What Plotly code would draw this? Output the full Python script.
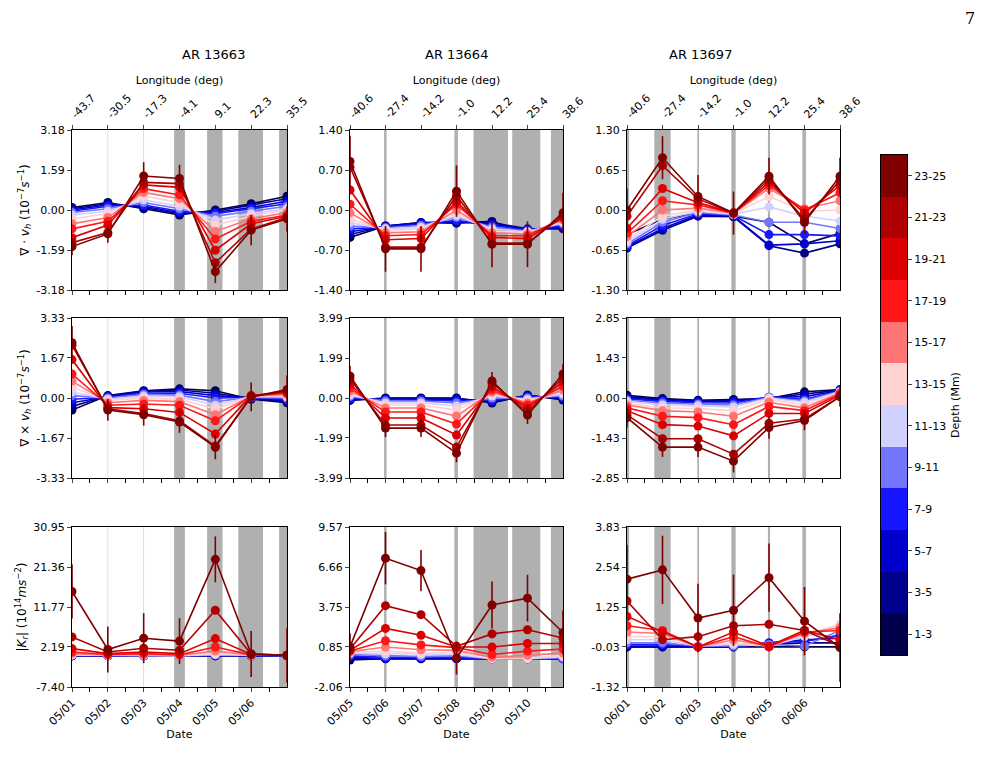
import plotly.graph_objects as go

depths = ["1-3", "3-5", "5-7", "7-9", "9-11", "11-13", "13-15", "15-17", "17-19", "19-21", "21-23", "23-25"]
regions = ["AR 13663", "AR 13664", "AR 13697"]
dates = [["05/01", "05/02", "05/03", "05/04", "05/05", "05/06"],
         ["05/05", "05/06", "05/07", "05/08", "05/09", "05/10"],
         ["06/01", "06/02", "06/03", "06/04", "06/05", "06/06"]]
lons = [[-43.7, -30.5, -17.3, -4.1, 9.1, 22.3, 35.5],
        [-40.6, -27.4, -14.2, -1.0, 12.2, 25.4, 38.6],
        [-40.6, -27.4, -14.2, -1.0, 12.2, 25.4, 38.6]]
days = [0, 1, 2, 3, 4, 5, 6]

# y tick values per row/column
yticks = [[[-3.18, -1.59, 0.00, 1.59, 3.18], [-1.40, -0.70, 0.00, 0.70, 1.40], [-1.30, -0.65, 0.00, 0.65, 1.30]],
          [[-3.33, -1.67, 0.00, 1.67, 3.33], [-3.99, -1.99, 0.00, 1.99, 3.99], [-2.85, -1.43, 0.00, 1.43, 2.85]],
          [[-7.40, 2.19, 11.77, 21.36, 30.95], [-2.06, 0.85, 3.75, 6.66, 9.57], [-1.32, -0.03, 1.25, 2.54, 3.83]]]

# data gaps (shaded) per column: (start, end)
gaps = [[(0.99, 1.01), (1.99, 2.01), (2.85, 3.15), (3.77, 4.2), (4.64, 5.33), (5.78, 6.0)],
        [(0.96, 1.03), (2.94, 3.04), (3.48, 4.45), (4.57, 5.36), (5.66, 6.0)],
        [(0.0, 0.06), (0.77, 1.23), (1.98, 2.03), (2.94, 3.06), (3.97, 4.03), (4.94, 5.04)]]

div_1 = [[0.1, 0.3, 0.05, -0.2, 0.0, 0.25, 0.55], [0.05, 0.25, 0.1, -0.15, -0.05, 0.2, 0.45],
         [0.0, 0.2, 0.15, -0.1, -0.1, 0.1, 0.35], [-0.05, 0.15, 0.2, -0.05, -0.15, 0.05, 0.25],
         [-0.1, 0.05, 0.3, 0.05, -0.25, -0.05, 0.15], [-0.2, -0.05, 0.4, 0.15, -0.4, -0.15, 0.05],
         [-0.35, -0.15, 0.55, 0.3, -0.6, -0.25, 0.0], [-0.55, -0.3, 0.7, 0.45, -0.85, -0.35, -0.1],
         [-0.75, -0.45, 0.85, 0.6, -1.15, -0.45, -0.2], [-1.1, -0.6, 1.0, 0.9, -1.6, -0.55, -0.25],
         [-1.3, -0.9, 1.1, 1.05, -2.1, -0.75, -0.3], [-1.45, -0.95, 1.35, 1.25, -2.45, -0.8, -0.35]]
div_2 = [[-0.48, -0.28, -0.22, -0.23, -0.2, -0.4, -0.2], [-0.43, -0.28, -0.22, -0.22, -0.22, -0.33, -0.33],
         [-0.38, -0.29, -0.23, -0.2, -0.25, -0.34, -0.3], [-0.33, -0.3, -0.25, -0.18, -0.27, -0.35, -0.27],
         [-0.28, -0.31, -0.27, -0.13, -0.3, -0.37, -0.24], [-0.22, -0.33, -0.3, -0.1, -0.33, -0.38, -0.22],
         [-0.15, -0.36, -0.33, -0.05, -0.37, -0.4, -0.2], [-0.05, -0.4, -0.38, 0.0, -0.4, -0.42, -0.17],
         [0.1, -0.45, -0.43, 0.1, -0.45, -0.45, -0.15], [0.35, -0.52, -0.5, 0.15, -0.48, -0.5, -0.12],
         [0.75, -0.65, -0.65, 0.25, -0.58, -0.58, -0.1], [0.85, -0.68, -0.68, 0.33, -0.6, -0.6, -0.05]]
div_3 = [[-0.4, -0.15, -0.05, -0.1, -0.2, -0.55, -0.38], [-0.62, -0.33, -0.1, -0.11, -0.58, -0.7, -0.55],
         [-0.6, -0.3, -0.08, -0.1, -0.57, -0.55, -0.5], [-0.58, -0.25, -0.06, -0.09, -0.4, -0.4, -0.42],
         [-0.55, -0.2, -0.04, -0.08, -0.2, -0.2, -0.3], [-0.52, -0.15, -0.02, -0.07, 0.05, -0.1, -0.18],
         [-0.48, -0.1, 0.0, -0.06, 0.22, -0.02, 0.0], [-0.43, 0.0, 0.03, -0.05, 0.35, 0.02, 0.15],
         [-0.38, 0.15, 0.08, -0.05, 0.4, 0.0, 0.28], [-0.3, 0.35, 0.12, -0.05, 0.45, -0.05, 0.4],
         [-0.1, 0.72, 0.18, -0.05, 0.5, -0.15, 0.48], [0.0, 0.85, 0.22, -0.05, 0.55, -0.2, 0.55]]

curl_1 = [[-0.5, 0.1, 0.3, 0.38, 0.3, -0.05, -0.2], [-0.35, 0.08, 0.28, 0.33, 0.2, -0.02, -0.15],
          [-0.2, 0.05, 0.25, 0.27, 0.1, 0.0, -0.1], [-0.05, 0.03, 0.2, 0.2, 0.0, 0.02, -0.05],
          [0.1, 0.0, 0.15, 0.12, -0.15, 0.03, 0.0], [0.25, -0.05, 0.08, 0.05, -0.3, 0.05, 0.05],
          [0.45, -0.1, 0.0, -0.05, -0.45, 0.06, 0.1], [0.7, -0.2, -0.1, -0.15, -0.7, 0.08, 0.15],
          [1.0, -0.3, -0.25, -0.3, -0.95, 0.1, 0.2], [1.6, -0.4, -0.45, -0.6, -1.5, 0.1, 0.25],
          [2.2, -0.45, -0.65, -0.95, -2.0, 0.05, 0.3], [2.3, -0.5, -0.7, -1.0, -2.05, 0.05, 0.35]]
curl_2 = [[-0.12, 0.0, 0.0, 0.0, -0.25, 0.15, -0.1], [-0.1, -0.02, -0.02, -0.03, -0.2, 0.12, -0.05],
          [-0.05, -0.05, -0.05, -0.08, -0.15, 0.1, 0.0], [0.0, -0.1, -0.1, -0.15, -0.1, 0.05, 0.05],
          [0.08, -0.15, -0.15, -0.25, 0.0, 0.0, 0.1], [0.15, -0.25, -0.25, -0.4, 0.1, -0.08, 0.2],
          [0.25, -0.35, -0.35, -0.6, 0.2, -0.15, 0.3], [0.35, -0.5, -0.5, -0.9, 0.3, -0.25, 0.4],
          [0.5, -0.7, -0.7, -1.3, 0.4, -0.35, 0.6], [0.7, -1.0, -1.0, -1.85, 0.55, -0.5, 0.8],
          [0.95, -1.35, -1.35, -2.45, 0.75, -0.7, 1.0], [1.1, -1.5, -1.5, -2.75, 0.85, -0.85, 1.2]]
curl_3 = [[0.1, -0.02, -0.08, -0.05, -0.02, 0.22, 0.3], [0.05, -0.05, -0.1, -0.08, 0.0, 0.15, 0.28],
          [0.0, -0.08, -0.13, -0.12, 0.02, 0.05, 0.27], [-0.03, -0.12, -0.17, -0.18, 0.03, -0.05, 0.25],
          [-0.08, -0.18, -0.22, -0.25, 0.02, -0.1, 0.24], [-0.12, -0.25, -0.28, -0.32, 0.0, -0.15, 0.22],
          [-0.2, -0.35, -0.38, -0.45, -0.05, -0.25, 0.2], [-0.25, -0.45, -0.5, -0.65, -0.15, -0.35, 0.18],
          [-0.35, -0.65, -0.7, -0.95, -0.3, -0.45, 0.15], [-0.45, -0.95, -1.0, -1.35, -0.55, -0.55, 0.1],
          [-0.6, -1.45, -1.45, -2.0, -0.9, -0.75, 0.05], [-0.7, -1.75, -1.75, -2.25, -1.05, -0.8, 0.05]]

kr_1 = [[0.1, 0.1, 0.1, 0.1, 0.1, 0.1, 0.1], [0.1, 0.1, 0.1, 0.1, 0.1, 0.1, 0.1],
        [0.1, 0.1, 0.1, 0.1, 0.15, 0.1, 0.1], [0.15, 0.1, 0.1, 0.1, 0.2, 0.15, 0.15],
        [0.2, 0.15, 0.15, 0.1, 0.3, 0.15, 0.15], [0.3, 0.2, 0.2, 0.1, 0.4, 0.2, 0.2],
        [0.4, 0.2, 0.3, 0.1, 0.7, 0.2, 0.2], [0.6, 0.3, 0.4, 0.2, 1.2, 0.3, 0.2],
        [1.0, 0.4, 0.6, 0.3, 2.2, 0.3, 0.2], [1.8, 0.6, 1.0, 0.6, 4.2, 0.4, 0.2],
        [4.6, 1.0, 1.9, 1.4, 11.0, 0.5, 0.2], [15.5, 1.6, 4.3, 3.6, 23.2, 0.5, 0.2]]
kr_2 = [[-0.1, 0.0, 0.0, 0.0, 0.0, 0.0, 0.0], [0.0, 0.0, 0.0, 0.0, 0.0, 0.0, 0.0],
        [0.1, 0.0, 0.0, 0.0, 0.0, 0.0, 0.0], [0.2, 0.1, 0.1, 0.1, 0.0, 0.0, 0.0],
        [0.3, 0.2, 0.15, 0.2, 0.0, 0.0, 0.05], [0.4, 0.35, 0.3, 0.3, 0.0, 0.0, 0.15],
        [0.45, 0.55, 0.4, 0.45, 0.0, 0.05, 0.25], [0.5, 0.85, 0.65, 0.6, 0.1, 0.25, 0.4],
        [0.55, 1.3, 1.0, 0.8, 0.3, 0.55, 0.7], [0.6, 2.2, 1.7, 0.85, 0.85, 1.1, 1.1],
        [0.7, 3.85, 3.2, 0.9, 1.8, 2.1, 1.5], [0.85, 7.3, 6.4, 0.05, 3.9, 4.4, 1.9]]
kr_3 = [[-0.03, -0.03, -0.03, -0.03, -0.03, -0.03, -0.03], [-0.03, -0.03, -0.03, -0.03, 0.05, 0.1, 0.1],
        [0.0, 0.0, 0.0, 0.0, 0.1, 0.2, 0.25], [0.05, 0.05, 0.0, 0.0, 0.1, 0.15, 0.35],
        [0.1, 0.1, 0.0, 0.0, 0.05, 0.0, 0.5], [0.2, 0.2, 0.0, 0.05, 0.0, 0.3, 0.6],
        [0.3, 0.3, 0.0, 0.1, 0.0, 0.35, 0.7], [0.45, 0.4, -0.03, 0.2, 0.0, 0.4, 0.6],
        [0.65, 0.5, -0.03, 0.3, -0.03, 0.45, 0.5], [0.95, 0.45, -0.03, 0.45, 0.0, 0.5, 0.2],
        [1.45, 0.2, 0.3, 0.65, 0.7, 0.5, 0.0], [2.15, 2.45, 0.9, 1.15, 2.2, 0.8, -0.05]]

# error bars of the deepest layer
err_div = [[0.35, 0.35, 0.55, 0.55, 0.45, 0.6, 0.5], [0.45, 0.4, 0.4, 0.45, 0.4, 0.4, 0.35], [0.35, 0.35, 0.35, 0.35, 0.3, 0.2, 0.3]]
err_curl = [[0.7, 0.45, 0.45, 0.45, 0.5, 0.6, 0.6], [0.5, 0.45, 0.45, 0.45, 0.45, 0.45, 0.5], [0.35, 0.35, 0.35, 0.4, 0.4, 0.35, 0.35]]
err_kr = [[6.5, 5.5, 6.0, 5.5, 5.5, 5.5, 6.5], [1.0, 1.9, 1.5, 1.2, 1.7, 1.7, 1.6], [1.1, 1.1, 1.1, 1.15, 1.1, 1.1, 1.1]]

values = [[div_1, div_2, div_3], [curl_1, curl_2, curl_3], [kr_1, kr_2, kr_3]]
errors = [err_div, err_curl, err_kr]
ytitles = ["∇ · <i>v<sub>h</sub></i> (10<sup>−7</sup><i>s</i><sup>−1</sup>)",
           "∇ × <i>v<sub>h</sub></i> (10<sup>−7</sup><i>s</i><sup>−1</sup>)",
           "|<i>K<sub>r</sub></i>| (10<sup>14</sup><i>ms</i><sup>−2</sup>)"]


def seismic(t):
    # matplotlib 'seismic' colormap
    if t < 0.25:
        r, g, b = 0, 0, 0.3 + 0.7 * t / 0.25
    elif t < 0.5:
        s = (t - 0.25) / 0.25
        r, g, b = s, s, 1
    elif t < 0.75:
        s = (t - 0.5) / 0.25
        r, g, b = 1, 1 - s, 1 - s
    else:
        s = (t - 0.75) / 0.25
        r, g, b = 1 - 0.5 * s, 0, 0
    return "rgb(%d,%d,%d)" % (round(r * 255), round(g * 255), round(b * 255))


def ax(letter, k):
    return letter if k == 1 else "%s%d" % (letter, k)


colors = [seismic(i / 11) for i in range(12)]

W, H = 1005, 768
OFF = 8  # page margin of the browser
col_px = [(72 - OFF, 287 - OFF), (350 - OFF, 563 - OFF), (627 - OFF, 840 - OFF)]
row_px = [(130 - OFF, 290 - OFF), (318 - OFF, 478 - OFF), (527 - OFF, 687 - OFF)]
font = dict(family="DejaVu Sans", size=11, color="black")

fig = go.Figure()
layout = dict(width=W, height=H, margin=dict(l=0, r=0, t=0, b=0), plot_bgcolor="white",
              paper_bgcolor="white", showlegend=False, font=font)
shapes = []
annotations = []

for r in range(3):
    for c in range(3):
        k = r * 3 + c + 1
        xa, ya = ax("x", k), ax("y", k)
        tv = yticks[r][c]
        for i in range(12):
            show_err = i == 11
            fig.add_trace(go.Scatter(
                x=days, y=values[r][c][i], xaxis=xa, yaxis=ya, mode="lines+markers",
                line=dict(color=colors[i], width=1.6), marker=dict(color=colors[i], size=9),
                error_y=dict(type="data", array=errors[r][c], visible=show_err, color=colors[i],
                             thickness=1.6, width=0)))
        xk = dict(domain=[col_px[c][0] / W, col_px[c][1] / W], range=[0, 6], anchor=ya, automargin=False,
                  showline=True, linecolor="black", mirror=True, showgrid=False, zeroline=False,
                  ticks="outside", ticklen=4, tickvals=days[:6], tickfont=font,
                  minor=dict(tickvals=[0.5, 1.5, 2.5, 3.5, 4.5, 5.5], ticks="outside", ticklen=4, tickcolor="black"))
        if r == 2:
            xk.update(ticktext=dates[c], tickangle=-45, title=dict(text="Date", font=font, standoff=2))
        else:
            xk.update(showticklabels=False)
        yk = dict(domain=[1 - row_px[r][1] / H, 1 - row_px[r][0] / H], range=[tv[0], tv[-1]], anchor=xa,
                  showline=True, linecolor="black", mirror=True, showgrid=False, zeroline=False, automargin=False,
                  ticks="outside", ticklen=4, tickvals=tv, ticktext=["%.2f" % v for v in tv], tickfont=font)
        if c == 0:
            yk.update(title=dict(text=ytitles[r], font=dict(family="DejaVu Sans", size=12), standoff=4))
        layout["xaxis%d" % k] = xk
        layout["yaxis%d" % k] = yk
        for g0, g1 in gaps[c]:
            thin = (g1 - g0) < 0.03
            shapes.append(dict(type="rect", xref=xa, yref="%s domain" % ya, x0=g0, x1=g1, y0=0, y1=1,
                               fillcolor="#d0d0d0" if thin else "#b0b0b0", line=dict(width=0), layer="below"))

# top longitude axes
for c in range(3):
    k = 20 + c
    fig.add_trace(go.Scatter(x=days, y=[0] * 7, xaxis="x%d" % k, yaxis=ax("y", c + 1),
                             mode="markers", marker=dict(opacity=0), hoverinfo="skip"))
    layout["xaxis%d" % k] = dict(overlaying=ax("x", c + 1), side="top", anchor=ax("y", c + 1), automargin=False,
                                 range=[0, 6], tickvals=days, ticktext=["%.1f" % v for v in lons[c]],
                                 tickangle=-45, ticks="outside", ticklen=4, showgrid=False, zeroline=False,
                                 tickfont=font, title=dict(text="Longitude (deg)", font=font, standoff=4))
    annotations.append(dict(text=regions[c], x=(col_px[c][0] + col_px[c][1]) / 2 / W, y=1 - (55 - OFF) / H,
                            xref="paper", yref="paper", showarrow=False, yanchor="middle",
                            font=dict(family="DejaVu Sans", size=13, color="black")))

# discrete colorbar
n = len(depths)
cscale = []
for i in range(n):
    cscale.append([i / n, colors[i]])
    cscale.append([(i + 1) / n, colors[i]])
fig.add_trace(go.Heatmap(z=[[i] for i in range(n)], x=[0], y=list(range(n)), xaxis="x30", yaxis="y30",
                         colorscale=cscale, zmin=-0.5, zmax=n - 0.5, showscale=False, hoverinfo="skip"))
layout["xaxis30"] = dict(domain=[(881 - OFF) / W, (907 - OFF) / W], anchor="y30", showticklabels=False, ticks="",
                         automargin=False, showline=True, linecolor="black", mirror=True, showgrid=False,
                         zeroline=False)
layout["yaxis30"] = dict(domain=[1 - (655 - OFF) / H, 1 - (155 - OFF) / H], anchor="x30", side="right",
                         automargin=False, range=[-0.5, n - 0.5], tickvals=list(range(n)), ticktext=depths,
                         ticks="outside", ticklen=4, showline=True, linecolor="black", mirror=True,
                         showgrid=False, zeroline=False, tickfont=font,
                         title=dict(text="Depth (Mm)", font=font, standoff=6))

annotations.append(dict(text="7", x=(977 - OFF) / W, y=1 - 11 / H, xref="paper", yref="paper", showarrow=False,
                        yanchor="middle", font=dict(family="DejaVu Serif", size=16, color="black")))

layout["shapes"] = shapes
layout["annotations"] = annotations
fig.update_layout(**layout)
fig.write_html("out.html")
